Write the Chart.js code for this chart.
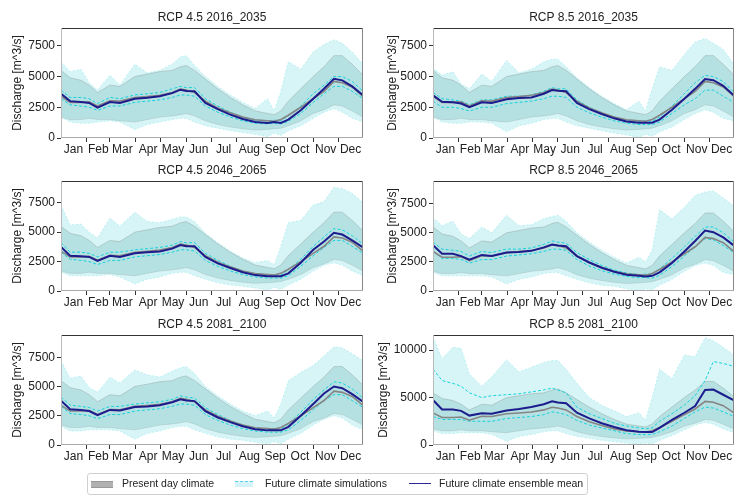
<!DOCTYPE html>
<html>
<head>
<meta charset="utf-8">
<script src="https://cdn.jsdelivr.net/npm/chart.js@4.4.1/dist/chart.umd.min.js"></script>
<style>
  body { margin: 0; background: #fff; width: 750px; height: 500px; position: relative; overflow: hidden;
         font-family: "Liberation Sans", Arial, sans-serif; }
  canvas { position: absolute; }
  #legend { position: absolute; left: 87px; top: 473px; width: 499px; height: 20px;
            border: 1px solid #d0d0d0; border-radius: 3px; font-size: 10.5px; color: #222; }
  #legend span { position: absolute; }
  .txt { top: 3px; white-space: nowrap; }
  .sw-grey { left: 3px; top: 7px; width: 22px; height: 5px; background: #b0b0b0; border-top: 1px solid #999; border-bottom: 1px solid #999; }
  .sw-cyan { left: 147px; top: 7px; width: 18px; height: 5px; background: #d6f4f8; border-top: 1.5px dashed #5ad0f0; }
  .sw-navy { left: 321px; top: 9px; width: 22px; height: 0; border-top: 1.5px solid #2a2a9a; }
</style>
</head>
<body>
<canvas id="p1" width="375" height="160" style="left:0;top:0"></canvas>
<canvas id="p2" width="375" height="160" style="left:375px;top:0"></canvas>
<canvas id="p3" width="375" height="160" style="left:0;top:153px"></canvas>
<canvas id="p4" width="375" height="160" style="left:375px;top:153px"></canvas>
<canvas id="p5" width="375" height="160" style="left:0;top:307px"></canvas>
<canvas id="p6" width="375" height="160" style="left:375px;top:307px"></canvas>

<div id="legend">
  <span class="sw-grey"></span><span class="txt" style="left:34px">Present day climate</span>
  <span class="sw-cyan"></span><span class="txt" style="left:177px">Future climate simulations</span>
  <span class="sw-navy"></span><span class="txt" style="left:351px">Future climate ensemble mean</span>
</div>

<script>
// day of year for each sample
const DAYS = [1, 12, 25, 35, 45, 60, 72, 90, 105, 120, 135, 145, 152, 162, 175, 190, 205, 220, 235, 250, 258, 266, 275, 290, 305, 318, 330, 340, 352, 365];

const MONTHS = ['Jan', 'Feb', 'Mar', 'Apr', 'May', 'Jun', 'Jul', 'Aug', 'Sep', 'Oct', 'Nov', 'Dec'];
const MONTH_START = [32, 60, 91, 121, 152, 182, 213, 244, 274, 305, 335];
const MONTH_MID = [16, 46, 75, 106, 136, 167, 197, 228, 259, 289, 320, 350];

// present day climate (same in every panel)
const PRES_MEAN = [3390, 2900, 2900, 2950, 2610, 3030, 3000, 3300, 3380, 3480, 3700, 3980, 3900, 3700, 3000, 2450, 2050, 1700, 1480, 1400, 1360, 1500, 1850, 2500, 3200, 3800, 4600, 4500, 4150, 3390];
const PRES_HI = [5500, 4900, 4700, 4300, 3700, 4300, 4200, 5000, 5200, 5400, 5500, 5800, 5900, 5500, 4800, 4000, 3300, 2700, 2200, 2000, 1900, 2200, 3000, 4000, 5000, 5800, 6700, 6700, 6000, 5100];
const PRES_LO = [1700, 1500, 1500, 1600, 1500, 1500, 1400, 1300, 1500, 1700, 1800, 1900, 2000, 1800, 1400, 1100, 900, 750, 650, 700, 750, 800, 1000, 1400, 2000, 2300, 2700, 2600, 2200, 1700];

// RCP 4.5 2016_2035
const P1_MEAN = [3600, 3000, 2930, 2850, 2470, 2930, 2850, 3200, 3280, 3390, 3650, 3930, 3820, 3800, 2850, 2350, 1900, 1550, 1300, 1230, 1300, 1220, 1500, 2250, 3200, 4010, 4820, 4690, 4200, 3470];
const P1_HI = [6200, 5400, 5600, 4500, 3900, 5100, 4300, 6000, 5300, 5500, 6000, 6600, 6700, 5900, 5000, 4200, 3500, 2900, 2400, 3200, 2200, 3800, 6200, 5600, 7000, 7600, 8000, 7700, 7000, 6000];
const P1_LO = [1700, 1300, 1200, 1200, 1300, 1400, 1300, 700, 1100, 1300, 1500, 1600, 1600, 1300, 1000, 800, 600, 450, 300, 100, 400, 200, 600, 1000, 1600, 2100, 2400, 2100, 1600, 1300];
const P1_SIM_A = [3900, 3300, 3300, 3200, 2800, 3300, 3200, 3500, 3600, 3700, 4000, 4200, 4100, 4100, 3200, 2600, 2100, 1700, 1450, 1400, 1450, 1400, 1800, 2600, 3600, 4300, 5000, 5000, 4600, 3800];
const P1_SIM_B = [3200, 2700, 2600, 2500, 2250, 2600, 2600, 2900, 3000, 3100, 3300, 3500, 3500, 3400, 2600, 2100, 1700, 1400, 1200, 1150, 1200, 1150, 1350, 2000, 2900, 3600, 4200, 4200, 3800, 3200];

// RCP 8.5 2016_2035
const P2_MEAN = [3470, 2950, 2900, 2800, 2500, 2900, 2850, 3150, 3250, 3300, 3600, 3900, 3850, 3800, 2850, 2350, 1950, 1600, 1350, 1250, 1250, 1250, 1500, 2300, 3200, 4000, 4800, 4700, 4250, 3450];
const P2_HI = [5700, 5100, 5400, 4400, 4000, 5200, 4600, 6300, 5300, 5600, 6200, 6400, 6400, 5800, 4900, 4100, 3400, 2800, 2300, 3000, 2200, 4000, 5800, 5500, 6800, 7800, 8100, 7700, 7200, 6000];
const P2_LO = [1700, 1300, 1200, 1200, 1300, 1300, 1200, 500, 1000, 1200, 1500, 1600, 1600, 1300, 1000, 800, 600, 400, 250, 50, 300, 150, 500, 900, 1500, 2000, 2300, 2100, 1600, 1400];
const P2_SIM_A = [3700, 3200, 3100, 3000, 2700, 3100, 3100, 3400, 3400, 3500, 3800, 4100, 4000, 4000, 3100, 2500, 2050, 1700, 1450, 1350, 1400, 1350, 1700, 2600, 3600, 4500, 5100, 5000, 4600, 3700];
const P2_SIM_B = [3000, 2500, 2500, 2400, 2200, 2500, 2500, 2800, 2900, 3000, 3200, 3400, 3400, 3300, 2500, 2050, 1700, 1400, 1200, 1100, 1100, 1100, 1300, 2000, 2700, 3200, 3900, 3900, 3400, 2900];

// RCP 4.5 2046_2065
const P3_MEAN = [3750, 3000, 2950, 2900, 2550, 3000, 2900, 3200, 3300, 3350, 3600, 3900, 3800, 3800, 2900, 2350, 1950, 1600, 1350, 1250, 1250, 1250, 1500, 2400, 3500, 4200, 4950, 4800, 4300, 3700];
const P3_HI = [7300, 5600, 5700, 5000, 4500, 6200, 5500, 6700, 5900, 5800, 6100, 6300, 6300, 5900, 4900, 4100, 3400, 2800, 2400, 2600, 2200, 3800, 5800, 6000, 7300, 7600, 8800, 8700, 8300, 7500];
const P3_LO = [1600, 1300, 1300, 1300, 1300, 1400, 1200, 600, 1000, 1200, 1500, 1600, 1600, 1300, 1000, 700, 500, 400, 250, 100, 300, 150, 500, 1000, 1700, 2200, 2400, 2200, 1700, 1300];
const P3_SIM_A = [4100, 3300, 3300, 3200, 2900, 3300, 3300, 3500, 3600, 3700, 3900, 4200, 4100, 4100, 3200, 2600, 2100, 1700, 1450, 1350, 1400, 1350, 1800, 2700, 3800, 4600, 5300, 5200, 4700, 4000];
const P3_SIM_B = [3300, 2700, 2600, 2500, 2250, 2600, 2600, 2900, 3000, 3100, 3300, 3500, 3500, 3400, 2600, 2100, 1700, 1400, 1200, 1100, 1100, 1100, 1300, 2100, 3000, 3700, 4300, 4300, 3800, 3200];

// RCP 8.5 2046_2065
const P4_MEAN = [3930, 3200, 3200, 3000, 2700, 3100, 3000, 3300, 3350, 3450, 3750, 4000, 3900, 3850, 3000, 2450, 2000, 1650, 1400, 1300, 1250, 1300, 1600, 2400, 3400, 4300, 5200, 5050, 4600, 3900];
const P4_HI = [6300, 5600, 6000, 4900, 4500, 5500, 5000, 6500, 5600, 5700, 6200, 6400, 6500, 6000, 5000, 4200, 3500, 2900, 2400, 2900, 2500, 3500, 7000, 6200, 7200, 8200, 8500, 8600, 8000, 7300];
const P4_LO = [1600, 1300, 1300, 1300, 1300, 1300, 1200, 600, 1000, 1200, 1500, 1600, 1600, 1300, 1000, 700, 500, 400, 200, 50, 200, 100, 500, 1000, 1700, 2200, 2400, 2200, 1600, 1400];
const P4_SIM_A = [4200, 3600, 3500, 3400, 3000, 3400, 3300, 3600, 3600, 3700, 4000, 4300, 4200, 4100, 3300, 2700, 2200, 1800, 1550, 1400, 1450, 1450, 1900, 2800, 3800, 4700, 5500, 5500, 5000, 4200];
const P4_SIM_B = [3400, 2800, 2800, 2700, 2400, 2700, 2700, 3000, 3100, 3200, 3400, 3600, 3600, 3500, 2700, 2150, 1750, 1450, 1250, 1150, 1150, 1100, 1350, 2100, 3000, 3800, 4500, 4400, 3900, 3300];

// RCP 4.5 2081_2100
const P5_MEAN = [3790, 3050, 3000, 2900, 2550, 3000, 2950, 3250, 3300, 3400, 3650, 3900, 3800, 3750, 2900, 2350, 1950, 1600, 1350, 1250, 1250, 1250, 1550, 2500, 3500, 4400, 5000, 4850, 4350, 3700];
const P5_HI = [7200, 5700, 5900, 4900, 4500, 5800, 5300, 6400, 6000, 5800, 6300, 6600, 6700, 6100, 5000, 4200, 3500, 2900, 2500, 2900, 2300, 3500, 5500, 6200, 6800, 7600, 8400, 8300, 7800, 7200];
const P5_LO = [1600, 1200, 1200, 1300, 1300, 1300, 1200, 500, 1000, 1200, 1500, 1600, 1600, 1300, 1000, 700, 500, 400, 250, 100, 300, 100, 500, 1000, 1700, 2200, 2500, 2300, 1700, 1300];
const P5_SIM_A = [4100, 3400, 3300, 3200, 2900, 3300, 3300, 3500, 3600, 3700, 3900, 4200, 4100, 4000, 3200, 2600, 2100, 1700, 1450, 1350, 1400, 1350, 1800, 2800, 3900, 4700, 5400, 5300, 4800, 4000];
const P5_SIM_B = [3300, 2700, 2600, 2500, 2250, 2600, 2600, 2900, 3000, 3100, 3300, 3500, 3500, 3400, 2600, 2100, 1700, 1400, 1200, 1100, 1100, 1100, 1300, 2100, 3000, 3800, 4300, 4300, 3800, 3200];

// RCP 8.5 2081_2100
const P6_MEAN = [4750, 3750, 3750, 3600, 3100, 3350, 3300, 3640, 3800, 4000, 4300, 4600, 4480, 4400, 3400, 2800, 2300, 1900, 1550, 1400, 1360, 1360, 1800, 2650, 3400, 4100, 5800, 5850, 5300, 4700];
const P6_HI = [11400, 9100, 10300, 10200, 7500, 6200, 7200, 9000, 7700, 8200, 8700, 8900, 8900, 8000, 6500, 5000, 4200, 3600, 3000, 3400, 2600, 5000, 8000, 7000, 9500, 9300, 11300, 11000, 10300, 9500];
const P6_LO = [1500, 1200, 1200, 1300, 1300, 1300, 1100, 400, 900, 1100, 1400, 1500, 1500, 1200, 900, 700, 500, 350, 200, 50, 200, 100, 500, 1000, 1600, 2100, 2400, 2200, 1700, 1300];
const P6_SIM_A = [8000, 6800, 6500, 6200, 5500, 5000, 5200, 5300, 5400, 5600, 5800, 6000, 5800, 5500, 4000, 3300, 2800, 2300, 2000, 1800, 1700, 1800, 2500, 3300, 4200, 5200, 6800, 8800, 8600, 8300];
const P6_SIM_B = [3000, 2700, 2700, 2700, 2500, 2500, 2500, 2800, 2900, 3000, 3200, 3500, 3400, 3200, 2600, 2100, 1800, 1500, 1200, 1100, 1100, 1100, 1400, 2000, 2800, 3500, 4000, 3900, 3500, 3000];

const TITLES = ['RCP 4.5 2016_2035', 'RCP 8.5 2016_2035', 'RCP 4.5 2046_2065', 'RCP 8.5 2046_2065', 'RCP 4.5 2081_2100', 'RCP 8.5 2081_2100'];
const Y_MAX = [8950, 8950, 9350, 9450, 9400, 11600];
const Y_TICKS = [[0, 2500, 5000, 7500], [0, 2500, 5000, 7500], [0, 2500, 5000, 7500],
                 [0, 2500, 5000, 7500], [0, 2500, 5000, 7500], [0, 5000, 10000]];

const FONT = "'Liberation Sans', Arial, sans-serif";
const X_TICKS = [1].concat(MONTH_START, MONTH_MID, [365]).sort((a, b) => a - b);

function pts(arr) {
  return DAYS.map((d, i) => ({x: d, y: arr[i]}));
}

const frame = {
  id: 'frame',
  afterDatasetsDraw(chart) {
    const a = chart.chartArea, c = chart.ctx;
    c.save();
    c.lineWidth = 1;
    const seg = (x1, y1, x2, y2, col) => {
      c.strokeStyle = col;
      c.beginPath(); c.moveTo(x1, y1); c.lineTo(x2, y2); c.stroke();
    };
    seg(a.left, a.top + 0.5, a.right, a.top + 0.5, '#333');
    seg(a.right - 0.5, a.top, a.right - 0.5, a.bottom, '#888');
    seg(a.left + 0.5, a.top, a.left + 0.5, a.bottom, '#bbb');
    seg(a.left, a.bottom - 0.5, a.right, a.bottom - 0.5, '#aaa');
    c.restore();
  }
};

function panel(id, n, mean, hi, lo, simA, simB) {
  const right = n % 2 === 1;
  const edge = {borderColor: 'rgba(110,225,230,0.5)', borderWidth: 0.8, borderDash: [2, 2]};
  return new Chart(document.getElementById(id), {
    type: 'line',
    data: {
      datasets: [
        Object.assign({data: pts(lo), fill: false, order: 10}, edge),
        Object.assign({data: pts(hi), fill: 0, backgroundColor: 'rgba(150,230,232,0.38)', order: 9}, edge),
        {data: pts(PRES_LO), borderColor: 'rgba(140,150,150,0.35)', borderWidth: 0.8, fill: false, order: 8},
        {data: pts(PRES_HI), borderColor: 'rgba(140,150,150,0.5)', borderWidth: 0.8, fill: 2,
         backgroundColor: 'rgba(115,185,185,0.33)', order: 7},
        {data: pts(simA), borderColor: '#14d2dc', borderWidth: 1, borderDash: [3, 2], order: 5},
        {data: pts(simB), borderColor: '#14d2dc', borderWidth: 1, borderDash: [3, 2], order: 4},
        {data: pts(PRES_MEAN), borderColor: '#858585', borderWidth: 1.6, order: 2},
        {data: pts(mean), borderColor: '#1c1c8c', borderWidth: 2, order: 1}
      ]
    },
    options: {
      responsive: false,
      animation: false,
      elements: {point: {radius: 0}, line: {tension: 0}},
      layout: {padding: {left: 0, right: right ? 16 : 12, top: 0, bottom: 0}},
      plugins: {
        legend: {display: false},
        tooltip: {enabled: false},
        title: {display: true, text: TITLES[n], fullSize: false, color: '#222',
                font: {family: FONT, size: 12, weight: 'normal'}, padding: {top: 10, bottom: 3.6}}
      },
      scales: {
        x: {
          type: 'linear', min: 1, max: 365,
          afterBuildTicks: s => { s.ticks = X_TICKS.map(v => ({value: v})); },
          afterFit: s => { s.height = 22; },
          border: {display: false},
          grid: {drawOnChartArea: false, tickLength: 4,
                 tickColor: c => MONTH_START.includes(c.tick.value) ? '#333' : 'rgba(0,0,0,0)'},
          ticks: {autoSkip: false, maxRotation: 0, padding: 0, color: '#222',
                  font: {family: FONT, size: 12},
                  callback: v => { const i = MONTH_MID.indexOf(v); return i >= 0 ? MONTHS[i] : ''; }}
        },
        y: {
          min: 0, max: Y_MAX[n],
          afterBuildTicks: s => { s.ticks = Y_TICKS[n].map(v => ({value: v})); },
          afterFit: s => { s.width = right ? 58 : 61; },
          border: {display: false},
          grid: {drawOnChartArea: false, tickLength: 4, tickColor: '#333'},
          ticks: {autoSkip: false, padding: 2, color: '#222', font: {family: FONT, size: 12},
                  callback: v => String(v)},
          title: {display: true, text: 'Discharge [m^3/s]', color: '#222',
                  font: {family: FONT, size: 12}, padding: {top: n === 5 ? 1 : 10, bottom: 0}}
        }
      }
    },
    plugins: [frame]
  });
}

panel('p1', 0, P1_MEAN, P1_HI, P1_LO, P1_SIM_A, P1_SIM_B);
panel('p2', 1, P2_MEAN, P2_HI, P2_LO, P2_SIM_A, P2_SIM_B);
panel('p3', 2, P3_MEAN, P3_HI, P3_LO, P3_SIM_A, P3_SIM_B);
panel('p4', 3, P4_MEAN, P4_HI, P4_LO, P4_SIM_A, P4_SIM_B);
panel('p5', 4, P5_MEAN, P5_HI, P5_LO, P5_SIM_A, P5_SIM_B);
panel('p6', 5, P6_MEAN, P6_HI, P6_LO, P6_SIM_A, P6_SIM_B);
</script>
</body>
</html>
